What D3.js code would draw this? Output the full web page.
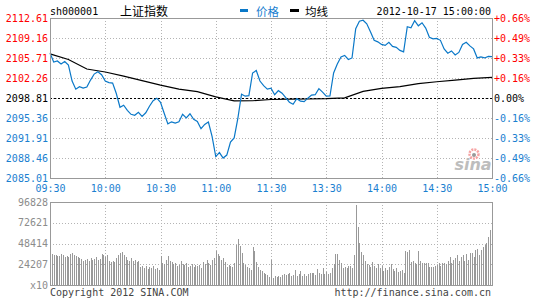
<!DOCTYPE html>
<html>
<head>
<meta charset="utf-8">
<script src="https://cdn.jsdelivr.net/npm/d3@7"></script>
<style>
body{margin:0;background:#fff}
svg{display:block}
text{font-family:"DejaVu Sans Mono",monospace;font-size:10px}
</style>
</head>
<body>
<svg id="chart" width="545" height="300"></svg>
<script>
// minutes since 09:30, lunch break squeezed out (11:30 == 13:00)
var timeTicks = [0,30,60,90,120,150,180,210,240]
var timeLabels = ["09:30","10:00","10:30","11:00","11:30","13:30","14:00","14:30","15:00"]
var priceTicks = [2085.01,2088.46,2091.91,2095.36,2098.81,2102.26,2105.71,2109.16,2112.61]
var pctLabels = ["-0.66%","-0.49%","-0.33%","-0.16%","0.00%","+0.16%","+0.33%","+0.49%","+0.66%"]
var volTicks = [0,24207,48414,72621,96828]
var volLabels = ["x10","24207","48414","72621","96828"]
var preClose = 2098.81

// price, one value every 2 minutes
var price = [
  2106.59,2105.02,2105.20,2104.68,2105.11,2104.50,2101.73,2100.34,2100.77,2100.51,
  2100.69,2101.90,2102.94,2103.34,2102.82,2101.73,2101.47,2101.38,2099.59,2097.21,
  2097.56,2096.69,2096.00,2095.82,2096.35,2095.65,2096.26,2097.39,2098.34,2098.78,
  2098.08,2096.17,2094.35,2094.70,2094.49,2094.70,2096.00,2095.39,2096.09,2095.13,
  2094.78,2093.52,2094.26,2094.66,2092.18,2088.71,2089.40,2088.45,2088.97,2091.22,
  2091.92,2095.30,2099.47,2099.12,2099.21,2103.12,2103.55,2101.73,2100.95,2100.34,
  2100.51,2099.38,2100.08,2099.64,2098.86,2098.08,2097.73,2098.69,2098.26,2098.17,
  2098.78,2099.30,2099.38,2100.43,2099.82,2099.12,2099.16,2103.12,2104.68,2105.89,
  2106.15,2105.46,2105.72,2110.75,2112.05,2112.23,2111.62,2110.23,2108.76,2108.50,
  2108.06,2107.89,2108.41,2107.72,2107.54,2107.02,2106.76,2111.10,2110.93,2112.14,
  2111.27,2111.79,2110.87,2109.28,2109.02,2109.10,2108.76,2107.28,2106.53,2106.93,
  2106.24,2106.67,2108.06,2108.41,2107.80,2107.28,2105.72,2105.89,2105.72,2105.98,
  2105.94
]
// average price, one value every 10 minutes
var avgPrice = [
  2106.41,2105.46,2103.81,2103.29,2102.59,2101.81,2101.03,2100.34,2099.90,2099.00,
  2098.31,2098.34,2098.55,2098.60,2098.64,2098.69,2098.83,2099.94,2100.46,2100.77,
  2101.29,2101.61,2101.90,2102.20,2102.37
]
// volume each minute (x10 shares)
var volume = [
  43000,36000,35500,34900,34300,33700,36200,34600,32500,33900,
  32700,35800,37200,34900,33500,32400,31400,30200,27900,29100,
  30400,27800,31200,28900,30100,32600,29000,30300,36100,34800,
  32500,35000,27900,26800,28000,26600,31300,34900,37100,38400,
  34800,32600,29100,27800,31500,27900,29000,26700,28100,20900,
  22000,19800,22200,18600,21000,19700,22100,18500,19900,17400,
  33700,25600,24300,29100,33800,27900,26800,24400,25500,22100,
  23200,27900,24300,23300,25600,20900,22000,24500,21000,23100,
  22100,23300,19800,26700,24400,29100,25500,23200,29000,31400,
  39500,36000,33700,29100,31300,26700,20900,23200,22000,20800,
  25600,46500,53500,45300,37200,25600,23300,20900,19800,17400,
  44200,39500,26700,20900,17500,16300,13900,12800,11600,9300,
  29100,8100,10500,9300,10400,9200,11600,12800,11500,12700,
  13900,10500,11600,17400,10400,12800,16300,10500,12700,10400,
  12800,13900,14000,13800,11600,18600,13900,12800,19700,12700,
  15100,12800,13900,19800,24400,36000,35900,29100,25600,19800,
  20900,19700,22100,22000,19800,34900,93000,67400,48800,38400,
  34800,27900,24400,23200,20900,26700,22100,19800,24400,19700,
  22100,16300,19800,17400,20900,24400,18600,16300,19800,15100,
  16300,17400,13900,39500,38400,40700,26700,27900,25600,24400,
  39500,27900,25600,25500,25700,25600,20900,21000,20800,22100,
  23200,25600,22100,25600,25500,24400,27900,32500,25600,29100,
  31400,34900,27900,32500,34900,27900,36000,29100,37200,37100,
  32500,40700,41800,34900,40700,44200,46500,48800,55800,63900,
  5800
]

var blue = "#0a78c8", labelBlue = "#1a80d0", red = "#ff0000", grid = "#b4b4b4", frame = "#999"

var svg = d3.select("#chart")
var x = d3.scaleLinear().domain([0,240]).range([50,492])
var y = d3.scaleLinear().domain([priceTicks[0], priceTicks[8]]).range([178,18])
var yv = d3.scaleLinear().domain([0,96828]).range([285,202])

/*
grid + frames
*/
function drawGrid(top, bottom, yTicks, yScale){
  var g = svg.append("g").attr("shape-rendering","crispEdges")
  g.selectAll(".hg").data(yTicks.slice(1,-1)).enter().append("line")
    .attr("x1",50).attr("x2",492)
    .attr("y1",d => Math.round(yScale(d))+0.5).attr("y2",d => Math.round(yScale(d))+0.5)
    .attr("stroke",grid).attr("stroke-dasharray","1,2")
  g.selectAll(".vg").data(timeTicks.slice(1,-1)).enter().append("line")
    .attr("x1",d => Math.round(x(d))+0.5).attr("x2",d => Math.round(x(d))+0.5)
    .attr("y1",top).attr("y2",bottom)
    .attr("stroke",grid).attr("stroke-dasharray","1,2")
  return g
}
drawGrid(18,178,priceTicks,y)
drawGrid(202,285,volTicks,yv)

// pre close dashed line
svg.append("line").attr("shape-rendering","crispEdges")
  .attr("x1",50).attr("x2",492)
  .attr("y1",Math.round(y(preClose))+0.5).attr("y2",Math.round(y(preClose))+0.5)
  .attr("stroke","#000").attr("stroke-dasharray","2,2")

// volume bars
svg.append("g").attr("shape-rendering","crispEdges")
  .selectAll("rect").data(volume).enter().append("rect")
    .attr("x",(d,i) => Math.round(x(i)))
    .attr("width",1)
    .attr("y",d => yv(d))
    .attr("height",d => 285 - yv(d))
    .attr("fill","#999")

// sina watermark
var logo = svg.append("g")
logo.append("circle").attr("cx",474).attr("cy",154).attr("r",4.5).attr("fill","none")
  .attr("stroke","#f6a3a3").attr("stroke-width",2.5).attr("stroke-dasharray","2,1")
logo.append("circle").attr("cx",474).attr("cy",155).attr("r",2).attr("fill","#999")
logo.append("text").attr("x",473).attr("y",170).attr("text-anchor","middle")
  .style("font-family","DejaVu Sans").style("font-size","16px").style("font-weight","bold")
  .style("font-style","italic").attr("fill","#bdbdbd").text("sina")

// lines
var avgLine = d3.line().x((d,i) => x(i*10)).y(d => y(d))
svg.append("path").datum(avgPrice).attr("d",avgLine)
  .attr("fill","none").attr("stroke","#000").attr("stroke-width",1.2)
var priceLine = d3.line().x((d,i) => x(i*2)).y(d => y(d))
svg.append("path").datum(price).attr("d",priceLine)
  .attr("fill","none").attr("stroke",blue).attr("stroke-width",1.2)

// frames
svg.append("rect").attr("x",50.5).attr("y",18.5).attr("width",442).attr("height",160)
  .attr("fill","none").attr("stroke",frame).attr("shape-rendering","crispEdges")
svg.append("rect").attr("x",50.5).attr("y",202.5).attr("width",442).attr("height",83)
  .attr("fill","none").attr("stroke",frame).attr("shape-rendering","crispEdges")

/*
axes
*/
function colorFor(v){ return v > preClose ? red : (v < preClose ? labelBlue : "#000") }

var left = svg.append("g").attr("transform","translate(48,0)")
  .call(d3.axisLeft(y).tickValues(priceTicks).tickSize(0).tickPadding(0).tickFormat(d3.format(".2f")))
left.select(".domain").remove()
left.selectAll("text").attr("fill",d => colorFor(d)).style("font-size","10px")

var right = svg.append("g").attr("transform","translate(494,0)")
  .call(d3.axisRight(y).tickValues(priceTicks).tickSize(0).tickPadding(0).tickFormat((d,i) => pctLabels[i]))
right.select(".domain").remove()
right.selectAll("text").attr("fill",d => colorFor(d)).style("font-size","10px")

var bottom = svg.append("g").attr("transform","translate(0,185)")
  .call(d3.axisBottom(x).tickValues(timeTicks).tickSize(0).tickPadding(0).tickFormat((d,i) => timeLabels[i]))
bottom.select(".domain").remove()
bottom.selectAll("text").attr("fill",labelBlue).style("font-size","10px")

var vleft = svg.append("g").attr("transform","translate(48,0)")
  .call(d3.axisLeft(yv).tickValues(volTicks).tickSize(0).tickPadding(0).tickFormat((d,i) => volLabels[i]))
vleft.select(".domain").remove()
vleft.selectAll("text").attr("fill","#8c8c8c").style("font-size","10px")

/*
titles
*/
svg.append("text").attr("x",50).attr("y",15).attr("fill","#000").text("sh000001")
svg.append("text").attr("x",120).attr("y",16).attr("fill","#000")
  .style("font-family","'Noto Sans CJK SC'").style("font-size","12px").text("上证指数")
svg.append("rect").attr("x",240).attr("y",9).attr("width",8).attr("height",3).attr("fill",blue)
svg.append("text").attr("x",256).attr("y",16).attr("fill",labelBlue)
  .style("font-family","'Noto Sans CJK SC'").style("font-size","11.5px").text("价格")
svg.append("rect").attr("x",290).attr("y",9).attr("width",9).attr("height",3).attr("fill","#000")
svg.append("text").attr("x",305).attr("y",16).attr("fill","#000")
  .style("font-family","'Noto Sans CJK SC'").style("font-size","11.5px").text("均线")
svg.append("text").attr("x",491).attr("y",15).attr("text-anchor","end").attr("fill","#000")
  .text("2012-10-17 15:00:00")

svg.append("text").attr("x",50).attr("y",296).attr("fill","#444").text("Copyright 2012 SINA.COM")
svg.append("text").attr("x",491).attr("y",296).attr("text-anchor","end").attr("fill","#444")
  .text("http://finance.sina.com.cn")
</script>
</body>
</html>
